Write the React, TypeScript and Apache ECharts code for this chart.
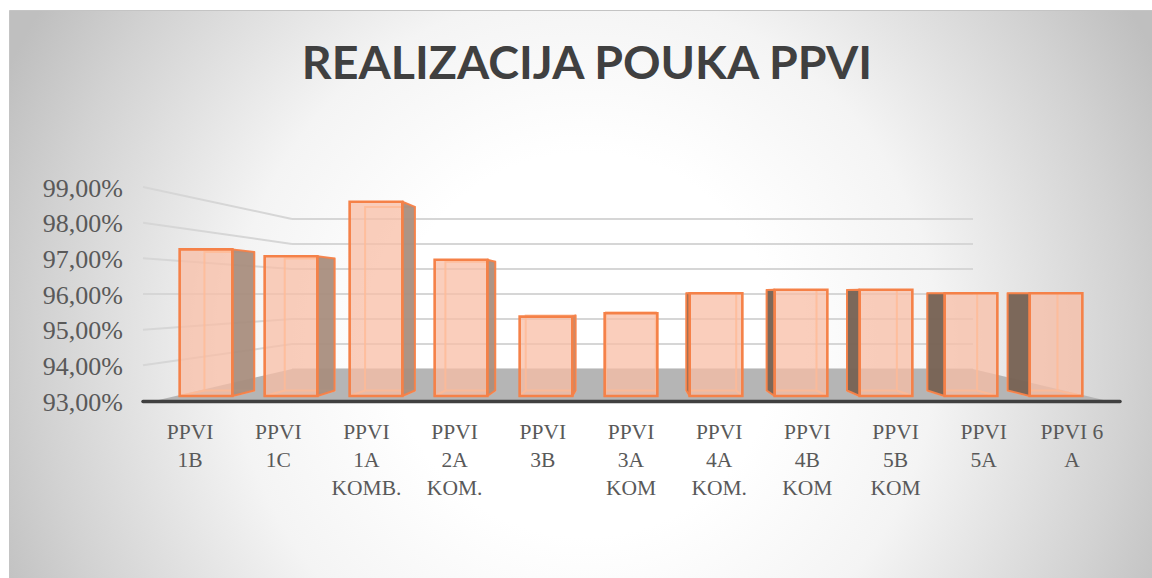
import React, { useEffect, useRef } from "react";
import * as echarts from "echarts";

const titleText = "REALIZACIJA POUKA PPVI";
const categories = [
  "PPVI\n1B", "PPVI\n1C", "PPVI\n1A\nKOMB.", "PPVI\n2A\nKOM.", "PPVI\n3B", "PPVI\n3A\nKOM",
  "PPVI\n4A\nKOM.", "PPVI\n4B\nKOM", "PPVI\n5B\nKOM", "PPVI\n5A", "PPVI 6\nA",
];
const values = [97.25, 97.05, 98.63, 96.95, 95.3, 95.4, 95.98, 96.08, 96.08, 95.98, 95.98];
const ticks = [93, 94, 95, 96, 97, 98, 99];

const VP = [630, 296];
const DEPTH = 0.055;
const toBack = (p: number[]) => [p[0] + (VP[0] - p[0]) * DEPTH, p[1] + (VP[1] - p[1]) * DEPTH];
const EDGE = "#f58148";
const BACK_EDGE = "rgba(255,186,150,0.8)";

function renderBar(_: any, api: any) {
  const i = api.value(0);
  const v = api.value(1);
  const top = api.coord([i, v]);
  const bot = api.coord([i, 93]);
  const w = api.size([1, 0])[0] * 0.62;
  const l = top[0] - w / 2;
  const r = top[0] + w / 2;
  const ftl = [l, top[1]], ftr = [r, top[1]], fbl = [l, bot[1]], fbr = [r, bot[1]];
  const btl = toBack(ftl), btr = toBack(ftr), bbl = toBack(fbl), bbr = toBack(fbr);
  const children: any[] = [];
  children.push({
    type: "rect",
    shape: { x: l, y: top[1], width: w, height: bot[1] - top[1] },
    style: { fill: "rgba(248,190,165,0.75)" },
  });
  const backStyle = { fill: "none", stroke: BACK_EDGE, lineWidth: 2 };
  children.push({ type: "polygon", shape: { points: [btl, btr, bbr, bbl] }, style: backStyle });
  children.push({ type: "line", shape: { x1: fbl[0], y1: fbl[1], x2: bbl[0], y2: bbl[1] }, style: { stroke: BACK_EDGE, lineWidth: 2 } });
  children.push({ type: "line", shape: { x1: fbr[0], y1: fbr[1], x2: bbr[0], y2: bbr[1] }, style: { stroke: BACK_EDGE, lineWidth: 2 } });
  if (r < VP[0]) {
    children.push({
      type: "polygon",
      shape: { points: [ftr, btr, bbr, fbr] },
      style: { fill: "#a98e7e", opacity: 0.95, stroke: EDGE, lineWidth: 2, lineJoin: "round" },
    });
  }
  if (l > VP[0]) {
    children.push({
      type: "polygon",
      shape: { points: [ftl, btl, bbl, fbl] },
      style: { fill: "#786355", opacity: 0.97, stroke: EDGE, lineWidth: 2, lineJoin: "round" },
    });
  }
  children.push({
    type: "rect",
    shape: { x: l, y: top[1], width: w, height: bot[1] - top[1] },
    style: { fill: "none", stroke: EDGE, lineWidth: 2.6 },
  });
  return { type: "group", children };
}

function renderWall(_: any, api: any) {
  const v = api.value(0);
  const front = api.coord([0, v]);
  const backX = 292;
  const backY = 369 - (v - 93) * 25;
  const x0 = 143;
  const x1 = 1120;
  if (v === 93) {
    return {
      type: "group",
      children: [
        {
          type: "polygon",
          shape: { points: [[150, front[1]], [backX, backY], [973, backY], [1112, front[1]]] },
          style: { fill: "#b5b5b5" },
        },
        {
          type: "line",
          shape: { x1: x0, y1: front[1] - 0.5, x2: x1, y2: front[1] - 0.5 },
          style: { stroke: "#404040", lineWidth: 3.5, lineCap: "round" },
        },
      ],
    };
  }
  return {
    type: "line",
    shape: { x1: x0, y1: front[1] - 1, x2: backX, y2: backY },
    style: { stroke: "#d6d6d6", lineWidth: 2 },
  };
}

export default function App() {
  const ref = useRef<HTMLDivElement>(null);
  useEffect(() => {
    const chart = echarts.init(ref.current!, undefined, { renderer: "svg" });
    chart.setOption({
      animation: false,
      backgroundColor: "#ffffff",
      graphic: [
        {
          type: "rect",
          z: -10,
          shape: { x: 9.5, y: 10.5, width: 1150, height: 575 },
          style: {
            fill: {
              type: "radial", x: 585, y: 345, r: 640, global: true,
              colorStops: [
                { offset: 0, color: "#ffffff" },
                { offset: 0.3, color: "#ffffff" },
                { offset: 0.55, color: "#f4f4f4" },
                { offset: 0.85, color: "#d2d2d2" },
                { offset: 1, color: "#bfbfbf" },
              ],
            },
            stroke: "#c4c4c4",
            lineWidth: 1,
          },
        },
      ],
      title: {
        text: titleText,
        left: 582,
        top: 32,
        textAlign: "center",
        textStyle: { fontFamily: "Lato", fontWeight: "bold", fontSize: 46.5, color: "#404040" },
      },
      grid: [
        { left: 146, width: 970, top: 188, height: 214 },
        { left: 163.5, width: 935, top: 189, height: 207 },
        { left: 292, width: 681, top: 219, height: 150 },
      ],
      xAxis: [
        {
          type: "category", gridIndex: 0, data: categories,
          axisLine: { show: false }, axisTick: { show: false },
          axisLabel: {
            interval: 0, margin: 16, lineHeight: 28, fontSize: 21.5,
            fontFamily: "Liberation Serif", color: "#595959",
          },
        },
        { type: "category", gridIndex: 1, data: categories, show: false },
        { type: "category", gridIndex: 2, data: categories, show: false },
      ],
      yAxis: [
        {
          type: "value", gridIndex: 0, min: 93, max: 99, interval: 1,
          axisLine: { show: false }, axisTick: { show: false }, splitLine: { show: false },
          axisLabel: {
            margin: 23, fontSize: 26, fontFamily: "Liberation Serif", color: "#595959",
            formatter: (v: number) => v.toFixed(2).replace(".", ",") + "%",
          },
        },
        { type: "value", gridIndex: 1, min: 93, max: 99, interval: 1, show: false },
        {
          type: "value", gridIndex: 2, min: 93, max: 99, interval: 1,
          axisLine: { show: false }, axisTick: { show: false }, axisLabel: { show: false },
          splitLine: { show: true, lineStyle: { color: "#d6d6d6", width: 2 } },
        },
      ],
      series: [
        {
          type: "custom", xAxisIndex: 0, yAxisIndex: 0, z: 1, silent: true,
          coordinateSystem: "cartesian2d",
          data: ticks.map((t) => [t]),
          encode: { y: 0 },
          renderItem: renderWall,
        },
        {
          type: "custom", xAxisIndex: 1, yAxisIndex: 1, z: 3, silent: true,
          coordinateSystem: "cartesian2d",
          data: values.map((v, i) => [i, v]),
          encode: { x: 0, y: 1 },
          renderItem: renderBar,
        },
      ],
    });
    return () => chart.dispose();
  }, []);
  return <div ref={ref} style={{ position: "absolute", left: 0, top: 0, width: 1152, height: 578 }} />;
}
